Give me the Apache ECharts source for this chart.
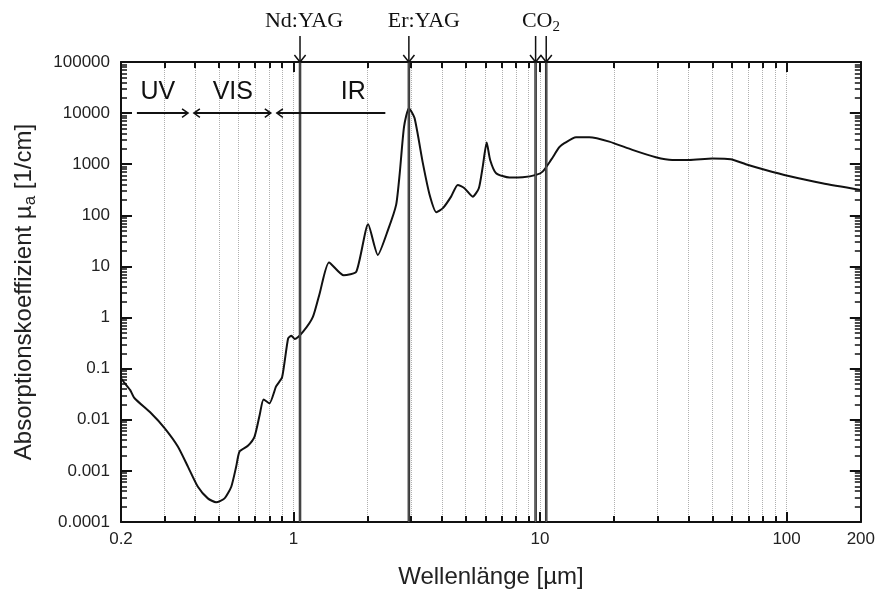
<!DOCTYPE html>
<html>
<head>
<meta charset="utf-8">
<script src="https://cdn.jsdelivr.net/npm/echarts@6/dist/echarts.min.js"></script>
<style>
html,body{margin:0;padding:0;background:#fff;}
#chart{width:878px;height:594px;}
</style>
</head>
<body>
<div id="chart"></div>
<script>
// ---- data ----
const wavelength = [0.2, 0.207, 0.218, 0.227, 0.265, 0.301, 0.340, 0.374, 0.410, 0.450, 0.486, 0.526, 0.560, 0.586, 0.605, 0.654, 0.696, 0.730, 0.757, 0.800, 0.851, 0.900, 0.952, 0.982, 1.013, 1.095, 1.20, 1.279, 1.395, 1.60, 1.80, 2.01, 2.20, 2.42, 2.61, 2.70, 2.81, 2.94, 3.10, 3.35, 3.57, 3.80, 4.04, 4.36, 4.64, 4.94, 5.34, 5.65, 5.86, 6.08, 6.28, 6.64, 7.52, 8.51, 9.64, 10.25, 11.09, 11.98, 12.56, 14.0, 15.85, 19.1, 23.7, 29.5, 34.4, 40.3, 50, 59.4, 68.3, 82.2, 102, 139.6, 200];
const absorption = [0.065, 0.052, 0.038, 0.0264, 0.0134, 0.0068, 0.0030, 0.0012, 0.00049, 0.00029, 0.000243, 0.00029, 0.00049, 0.0012, 0.0024, 0.0031, 0.0047, 0.0124, 0.025, 0.021, 0.045, 0.068, 0.39, 0.44, 0.38, 0.53, 1.03, 3.0, 12, 6.7, 7.9, 67, 16.8, 52, 160, 670, 5400, 12500, 8000, 1050, 250, 115, 138, 232, 394, 339, 232, 339, 897, 2650, 1213, 667, 548, 555, 618, 716, 1213, 2150, 2576, 3375, 3375, 2770, 1905, 1368, 1213, 1213, 1288, 1253, 1000, 773, 590, 425, 315];

const xTickLabels = [0.2, 1, 10, 100, 200];
const xMajorTicks = [1, 10, 100];
const xMinorTicks = [0.3, 0.4, 0.5, 0.6, 0.7, 0.8, 0.9, 1, 2, 3, 4, 5, 6, 7, 8, 9, 10, 20, 30, 40, 50, 60, 70, 80, 90, 100];
const yDecades = [0.0001, 0.001, 0.01, 0.1, 1, 10, 100, 1000, 10000, 100000];
const yMinorMultipliers = [2, 3, 4, 5, 6, 7, 8, 9];

const laserLines = [1.064, 2.94, 9.6, 10.6];
const laserLabels = ['Nd:YAG', 'Er:YAG', 'CO{s|2}'];
const laserLabelAt = [1.064, 2.94, 10.09];

const regionLabels = ['UV', 'VIS', 'IR'];
const regionFrom = [0.232, 0.395, 0.857];
const regionTo = [0.374, 0.81, 2.36];
const regionHeadStart = [false, true, true];
const regionHeadEnd = [true, true, false];
const regionLabelAt = [0.282, 0.568, 1.75];
const regionLevel = 10000;

// ---- build ----
const xMin = 0.2, xMax = 200, yMin = 0.0001, yMax = 100000;
const yMinorTicks = [];
yDecades.slice(0, -1).forEach(d => yMinorMultipliers.forEach(k => yMinorTicks.push(k * d)));

const AX = '#111';
const LABEL_FONT = 'Liberation Sans, Arial, sans-serif';
const fmtNum = v => {
  const e = Math.round(Math.log10(v));
  if (Math.abs(v - Math.pow(10, e)) < 1e-9 * Math.pow(10, e) && e < 0) return v.toFixed(-e);
  return String(+v.toPrecision(6));
};

function xAxisPair(pos, withLabels) {
  return [
    {
      type: 'log', logBase: 10, min: xMin, max: xMax, position: pos,
      axisLine: { show: true, onZero: false, lineStyle: { color: AX, width: 2 } },
      axisTick: { show: true, inside: true, length: 10, customValues: xMajorTicks, lineStyle: { color: AX, width: 2 } },
      axisLabel: withLabels ? { show: true, customValues: xTickLabels, fontSize: 17, color: '#222', fontFamily: LABEL_FONT, margin: 9, formatter: fmtNum } : { show: false },
      splitLine: { show: false },
      minorTick: { show: false },
      name: withLabels ? 'Wellenlänge [µm]' : '',
      nameLocation: 'middle', nameGap: 43,
      nameTextStyle: { fontSize: 24, color: '#222', fontFamily: LABEL_FONT }
    },
    {
      type: 'log', logBase: 10, min: xMin, max: xMax, position: pos,
      axisLine: { show: false, onZero: false },
      axisTick: { show: true, inside: true, length: 6, customValues: xMinorTicks, lineStyle: { color: AX, width: 2 } },
      axisLabel: { show: false },
      splitLine: { show: pos === 'bottom', lineStyle: { color: '#b0b0b0', type: 'dotted', width: 1 } },
      minorTick: { show: false }
    }
  ];
}

function yAxisPair(pos, withLabels) {
  return [
    {
      type: 'log', logBase: 10, min: yMin, max: yMax, position: pos,
      axisLine: { show: true, onZero: false, lineStyle: { color: AX, width: 2 } },
      axisTick: { show: true, inside: true, length: 11, customValues: yDecades, lineStyle: { color: AX, width: 2 } },
      axisLabel: withLabels ? { show: true, customValues: yDecades, fontSize: 17, color: '#222', fontFamily: LABEL_FONT, margin: 11, formatter: fmtNum } : { show: false },
      splitLine: { show: false },
      minorTick: { show: false },
      name: withLabels ? 'Absorptionskoeffizient µ{s|a} [1/cm]' : '',
      nameLocation: 'middle', nameGap: 82, nameRotate: 90,
      nameTextStyle: {
        fontSize: 24, color: '#222', fontFamily: LABEL_FONT, lineHeight: 30,
        rich: { s: { fontSize: 17, color: '#222', fontFamily: LABEL_FONT, verticalAlign: 'bottom', lineHeight: 17 } }
      }
    },
    {
      type: 'log', logBase: 10, min: yMin, max: yMax, position: pos,
      axisLine: { show: false, onZero: false },
      axisTick: { show: true, inside: true, length: 6, customValues: yMinorTicks, lineStyle: { color: AX, width: 1.5 } },
      axisLabel: { show: false },
      splitLine: { show: false },
      minorTick: { show: false }
    }
  ];
}

const curveData = wavelength.map((w, i) => [w, absorption[i]]);

function arrowHead(x, y, dir, size) {
  if (dir === 'down') return [[x - size * 0.8, y - size], [x, y], [x + size * 0.8, y - size]];
  if (dir === 'right') return [[x - size, y - size * 0.7], [x, y], [x - size, y + size * 0.7]];
  return [[x + size, y - size * 0.7], [x, y], [x + size, y + size * 0.7]];
}

const laserLabelDx = [4, 15, 0];

const option = {
  animation: false,
  backgroundColor: '#fff',
  grid: { left: 121, right: 16, top: 62, bottom: 72, containLabel: false },
  xAxis: [...xAxisPair('bottom', true), ...xAxisPair('top', false)],
  yAxis: [...yAxisPair('left', true), ...yAxisPair('right', false)],
  series: [
    {
      type: 'line', name: 'mu_a', xAxisIndex: 0, yAxisIndex: 0,
      data: curveData, showSymbol: false, symbol: 'none', smooth: 0.2,
      lineStyle: { color: '#111', width: 2 }, z: 5
    },
    {
      type: 'custom', xAxisIndex: 0, yAxisIndex: 0, clip: false, z: 6,
      data: laserLines.map((w, i) => [w, i]),
      renderItem: function (params, api) {
        const w = api.value(0);
        const bottom = api.coord([w, yMin]);
        const top = api.coord([w, yMax]);
        const x = top[0];
        const children = [
          { type: 'line', shape: { x1: x, y1: bottom[1], x2: x, y2: top[1] }, style: { stroke: '#222', lineWidth: 2.5 } },
          { type: 'line', shape: { x1: x, y1: bottom[1], x2: x, y2: top[1] }, style: { stroke: '#777', lineWidth: 0.8 } },
          { type: 'line', shape: { x1: x, y1: top[1] - 26, x2: x, y2: top[1] }, style: { stroke: '#111', lineWidth: 1.5 } },
          { type: 'polyline', shape: { points: arrowHead(x, top[1], 'down', 7) }, style: { stroke: '#111', lineWidth: 1.5, fill: null } }
        ];
        return { type: 'group', children: children };
      }
    },
    {
      type: 'custom', xAxisIndex: 0, yAxisIndex: 0, clip: false, z: 6,
      data: laserLabelAt.map((w, i) => [w, i]),
      renderItem: function (params, api) {
        const i = api.value(1);
        const top = api.coord([api.value(0), yMax]);
        return {
          type: 'text', x: top[0] + laserLabelDx[i], y: top[1] - 41,
          style: {
            text: laserLabels[i], fill: '#111', fontSize: 22, fontFamily: 'Liberation Serif, Times New Roman, serif',
            align: 'center', verticalAlign: 'middle',
            rich: { s: { fontSize: 15, fontFamily: 'Liberation Serif, Times New Roman, serif', fill: '#111', verticalAlign: 'bottom', padding: [12, 0, 0, 0] } }
          }
        };
      }
    },
    {
      type: 'custom', xAxisIndex: 0, yAxisIndex: 0, clip: false, z: 6,
      data: regionFrom.map((f, i) => [f, regionTo[i], regionLabelAt[i], i]),
      renderItem: function (params, api) {
        const i = api.value(3);
        const p1 = api.coord([api.value(0), regionLevel]);
        const p2 = api.coord([api.value(1), regionLevel]);
        const pl = api.coord([api.value(2), regionLevel]);
        const children = [
          { type: 'line', shape: { x1: p1[0], y1: p1[1], x2: p2[0], y2: p2[1] }, style: { stroke: '#111', lineWidth: 2 } },
          { type: 'text', x: pl[0], y: pl[1] - 21, style: { text: regionLabels[i], fill: '#111', fontSize: 25, fontFamily: LABEL_FONT, align: 'center', verticalAlign: 'middle' } }
        ];
        if (regionHeadStart[i]) children.push({ type: 'polyline', shape: { points: arrowHead(p1[0], p1[1], 'left', 6) }, style: { stroke: '#111', lineWidth: 1.5, fill: null } });
        if (regionHeadEnd[i]) children.push({ type: 'polyline', shape: { points: arrowHead(p2[0], p2[1], 'right', 6) }, style: { stroke: '#111', lineWidth: 1.5, fill: null } });
        return { type: 'group', children: children };
      }
    }
  ]
};

const chart = echarts.init(document.getElementById('chart'), null, { renderer: 'canvas' });
chart.setOption(option);
</script>
</body>
</html>
